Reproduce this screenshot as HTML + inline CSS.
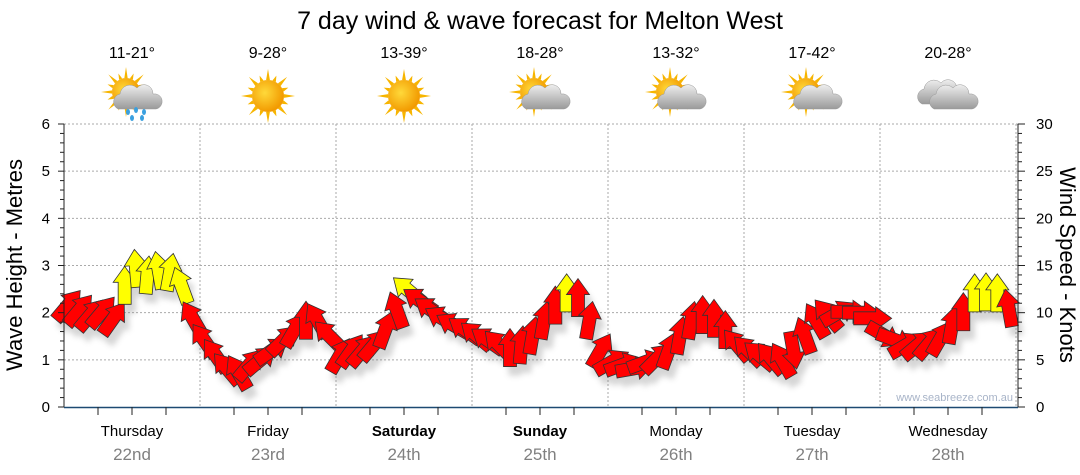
<!DOCTYPE html>
<html><head><meta charset="utf-8"><style>
body{margin:0;background:#fff;font-family:"Liberation Sans",sans-serif;}
svg{display:block}
</style></head><body>
<svg id="c" width="1080" height="475" font-family="Liberation Sans, sans-serif">
<defs>
<filter id="sh" x="-50%" y="-50%" width="200%" height="200%"><feGaussianBlur stdDeviation="3"/></filter>
<radialGradient id="sunG" cx="0.4" cy="0.4" r="0.6"><stop offset="0" stop-color="#ffd93a"/><stop offset="1" stop-color="#f29a00"/></radialGradient>
<linearGradient id="cloudG" x1="0" y1="0" x2="0" y2="1"><stop offset="0" stop-color="#eee"/><stop offset="1" stop-color="#9a9a9a"/></linearGradient>
</defs>
<text x="540" y="29" text-anchor="middle" font-size="25" fill="#000">7 day wind &amp; wave forecast for Melton West</text>
<g id="grid"></g>
<g id="shadows" filter="url(#sh)" opacity="0.3"></g>
<g id="arrows"></g>
<g id="axes"></g>
<g id="top"></g>
<text x="1013" y="401" text-anchor="end" font-size="11" fill="#a8b4c8">www.seabreeze.com.au</text>
<text transform="translate(22,265) rotate(-90)" text-anchor="middle" font-size="22">Wave Height - Metres</text>
<text transform="translate(1060,265) rotate(90)" text-anchor="middle" font-size="22">Wind Speed - Knots</text>
</svg>
<script>
const days=["Thursday","Friday","Saturday","Sunday","Monday","Tuesday","Wednesday"];
const dates=["22nd","23rd","24th","25th","26th","27th","28th"];
const boldDays=[false,false,true,true,false,false,false];
const temps=["11-21°","9-28°","13-39°","18-28°","13-32°","17-42°","20-28°"];
const icons=["sunrain","sun","sun","suncloud","suncloud","suncloud","cloud"];
const waveTicks=[0,1,2,3,4,5,6];
const windTicks=[0,5,10,15,20,25,30];
const windSpeed=[10.8,10.3,9.8,10.1,9.4,12.9,14.7,14,14.5,14.3,12.9,9.4,
7.1,5.5,4.1,3.7,4.5,5,6,7.1,8.2,9.2,9.2,7.6,
5.5,6,6,6.6,8.2,10.3,12.4,11.3,10.3,9.4,8.7,8.2,
7.6,7.1,6.6,6.3,6.6,7.6,9.2,10.8,12.1,11.6,9.2,6.0,
4.8,4.5,4.1,4.8,5.2,6,7.6,9.2,9.8,9.4,8.2,6.6,
6,5.5,5.2,5,6,7.6,9.2,9.8,10,10.1,10,9.4,
7.6,7.1,6.6,6.6,6.8,7.3,8.7,10.1,12.1,12.2,12.1,10.5];
const windDir=[40,40,40,40,35,0,-5,5,-10,10,-20,-30,
-35,-35,-40,-30,40,50,55,45,30,0,-30,-45,
30,35,40,40,20,-20,-50,-55,-55,-60,-60,-55,
-50,-55,-45,0,5,10,10,0,0,0,10,30,
60,70,80,70,45,20,10,10,0,0,0,-40,
-45,-50,-40,-30,170,-20,-30,-40,60,90,90,90,
120,110,60,50,40,30,10,0,0,0,0,-10];
const X0=64,X1=1016,Y0=407,Y1=124;
const dayW=(X1-X0)/7;
const ns="http://www.w3.org/2000/svg";
function el(t,a,p){const e=document.createElementNS(ns,t);for(const k in a)e.setAttribute(k,a[k]);p.appendChild(e);return e;}
const yM=m=>Y0-(Y0-Y1)*m/6;
const yK=k=>Y0-(Y0-Y1)*k/30;
const xI=i=>X0+i*(X1-X0)/windSpeed.length+4;
const G=document.getElementById('grid'),A=document.getElementById('axes'),T=document.getElementById('top');
const S=document.getElementById('shadows'),W=document.getElementById('arrows');
for(let m=1;m<=6;m++){const l=el('line',{x1:X0,x2:X1+2,y1:yM(m),y2:yM(m),stroke:'#aaa','stroke-dasharray':'2,2'},G);

}
for(let d=1;d<=7;d++){const x=X0+d*dayW;const l=el('line',{x1:x,x2:x,y1:Y1,y2:Y0,stroke:'#aaa','stroke-dasharray':'2,2'},G);

}
el('line',{x1:X0,x2:X0,y1:Y1,y2:Y0,stroke:'#222'},A);
el('line',{x1:X1+2,x2:X1+2,y1:Y1,y2:Y0,stroke:'#222'},A);
const xb=el('line',{x1:X0,x2:X1+2,y1:Y0+0.5,y2:Y0+0.5,stroke:'#1d4a72','stroke-width':1.5},A);


for(let m=0;m<=6.01;m+=0.2){const y=yM(m);const big=Math.abs(m-Math.round(m))<0.01;el('line',{x1:X0-(big?6:4),x2:X0,y1:y,y2:y,stroke:'#222'},A);}
waveTicks.forEach(m=>{const t=el('text',{x:X0-14,y:yM(m)+5,'text-anchor':'end','font-size':15},A);t.textContent=m;

});
for(let k=0;k<=30;k++){const y=yK(k);el('line',{x1:X1+2,x2:X1+(k%5==0?9:6),y1:y,y2:y,stroke:'#222'},A);}
windTicks.forEach(k=>{const t=el('text',{x:X1+20,y:yK(k)+5,'font-size':15},A);t.textContent=k;

});
for(let q=0;q<=28;q++){const x=X0+q*dayW/4;el('line',{x1:x,x2:x,y1:Y0,y2:Y0+(q%4==0?0:8),stroke:'#222'},A);}
function sun(g,cx,cy,r){for(let i=0;i<16;i++){const a=i*Math.PI/8,l=i%2?r+6:r+11;el('polygon',{points:`${cx+Math.cos(a-0.12)*r},${cy+Math.sin(a-0.12)*r} ${cx+Math.cos(a)*l},${cy+Math.sin(a)*l} ${cx+Math.cos(a+0.12)*r},${cy+Math.sin(a+0.12)*r}`,fill:'#f7b500'},g);}
el('circle',{cx,cy,r,fill:'url(#sunG)'},g);}
function cloud(g,cx,cy){const p=`M${cx-20},${cy+10} a8,8 0 0 1 2,-15 a10,10 0 0 1 17,-6 a9,9 0 0 1 16,6 a7,7 0 0 1 3,15 z`;el('path',{d:p,fill:'url(#cloudG)',stroke:'#999','stroke-width':0.5},g);}
for(let d=0;d<7;d++){const cx=X0+dayW*(d+0.5);
const t=el('text',{x:cx,y:436,'text-anchor':'middle','font-size':15,'font-weight':boldDays[d]?'bold':'normal'},A);t.textContent=days[d];


const t2=el('text',{x:cx,y:460,'text-anchor':'middle','font-size':17,fill:'#808080'},A);t2.textContent=dates[d];


const t3=el('text',{x:cx,y:58,'text-anchor':'middle','font-size':16},T);t3.textContent=temps[d];


const g=el('g',{},T);


const ic=icons[d];
if(ic=='sun'){sun(g,cx,96,16);}
else if(ic=='cloud'){cloud(g,cx-6,94);cloud(g,cx+6,99);}
else{sun(g,cx-6,92,14);cloud(g,cx+6,99);
if(ic=='sunrain'){[[-4,112],[4,110],[12,112],[0,118],[10,118]].forEach(p=>el('ellipse',{cx:cx+p[0],cy:p[1],rx:2,ry:3,fill:'#3aa0e0'},g));}}
}
const AP="0,-19 11.5,-3 6.5,-3 6.5,19 -6.5,19 -6.5,-3 -11.5,-3";
windSpeed.forEach((k,i)=>{const x=xI(i),y=yK(k),tr=`translate(${x},${y}) rotate(${windDir[i]})`;
el('polygon',{points:AP,transform:`translate(${x+5},${y+9}) rotate(${windDir[i]})`,fill:'#777'},S);
const p=el('polygon',{points:AP,transform:tr,fill:k>=12?'#ffff00':'#ff0000',stroke:'#333','stroke-width':0.8},W);

});
</script>
</body></html>
